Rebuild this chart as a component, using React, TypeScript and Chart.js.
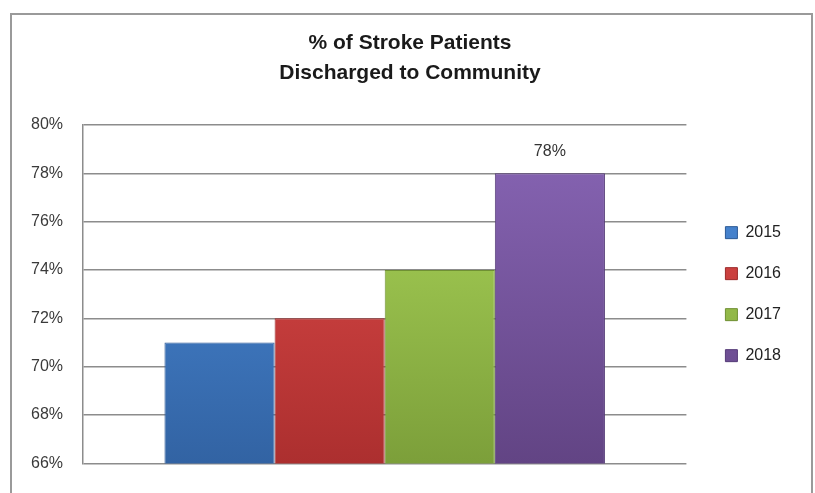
import React, { useEffect, useRef } from "react";
import { Chart, registerables } from "chart.js";

Chart.register(...registerables);

const titleLines = ["% of Stroke Patients", "Discharged to Community"];
const categories = [""];
const years = ["2015", "2016", "2017", "2018"];
const values = [71, 72, 74, 78];
const barLabels = ["", "", "", "78%"];
const yMin = 66;
const yMax = 80;
const yStep = 2;

const topColors = ["#4a8ad8", "#dc4a48", "#a8d257", "#8462b0"];
const bottomColors = ["#3263a3", "#ac2f2f", "#7c9f3a", "#624484"];
const edgeColors = ["#2c5a96", "#9c2a2a", "#6f9033", "#563c78"];

const FONT = "'Liberation Sans', Arial, sans-serif";

const barLabelPlugin = {
  id: "barLabelPlugin",
  afterDatasetsDraw(chart: any) {
    const ctx = chart.ctx;
    ctx.save();
    ctx.font = `16px ${FONT}`;
    ctx.fillStyle = "#333333";
    ctx.textAlign = "center";
    ctx.textBaseline = "middle";
    chart.data.datasets.forEach((_ds: any, i: number) => {
      const text = barLabels[i];
      if (!text) return;
      const meta = chart.getDatasetMeta(i);
      meta.data.forEach((el: any) => {
        ctx.fillText(text, el.x, el.y - 22);
      });
    });
    ctx.restore();
  },
};

export default function App() {
  const canvasRef = useRef<HTMLCanvasElement | null>(null);

  useEffect(() => {
    const canvas = canvasRef.current;
    if (!canvas) return;
    const chart = new Chart(canvas, {
      type: "bar",
      data: {
        labels: categories,
        datasets: years.map((y, i) => ({
          label: y,
          data: [values[i]],
          backgroundColor: (c: any) => {
            const area = c.chart.chartArea;
            if (!area) return topColors[i];
            const g = c.chart.ctx.createLinearGradient(0, area.top + 40, 0, area.bottom);
            g.addColorStop(0, topColors[i]);
            g.addColorStop(1, bottomColors[i]);
            return g;
          },
          borderColor: edgeColors[i],
          borderWidth: 1,
          barPercentage: 1,
          categoryPercentage: 0.73,
        })),
      },
      options: {
        responsive: false,
        animation: false,
        layout: { padding: { left: 29, right: 24, top: 0, bottom: 29 } },
        plugins: {
          title: {
            display: true,
            text: titleLines,
            color: "#1a1a1a",
            font: { family: FONT, size: 21, weight: "bold", lineHeight: 1.45 },
            padding: { top: 28, bottom: 36 },
          },
          legend: {
            display: true,
            position: "right",
            fullSize: false,
            labels: {
              boxWidth: 12,
              boxHeight: 12,
              padding: 25,
              color: "#222222",
              font: { family: FONT, size: 16 },
            },
          },
          tooltip: { enabled: false },
        },
        scales: {
          x: { display: false },
          y: {
            min: yMin,
            max: yMax,
            ticks: {
              stepSize: yStep,
              padding: 20,
              color: "#3a3a3a",
              font: { family: FONT, size: 16 },
              callback: (v: any) => `${v}%`,
            },
            grid: { color: "#8c8c8c", lineWidth: 1.5, drawTicks: false },
            border: { color: "#8c8c8c", width: 1.5 },
            afterFit: (s: any) => {
              s.width = 54;
            },
          },
          spacer: {
            type: "linear",
            position: "right",
            display: true,
            grid: { display: false, drawTicks: false },
            border: { display: false },
            ticks: { display: false },
            afterFit: (s: any) => {
              s.width = 14;
            },
          },
        },
      } as any,
      plugins: [barLabelPlugin],
    });
    return () => chart.destroy();
  }, []);

  return (
    <div style={{ position: "absolute", left: 0, top: 0, width: 815, height: 493, background: "#fff", overflow: "hidden" }}>
      <div
        style={{
          position: "absolute",
          left: 10,
          top: 13,
          width: 799,
          height: 500,
          border: "2px solid #9a9a9a",
        }}
      />
      <canvas ref={canvasRef} width={815} height={493} style={{ position: "absolute", left: 0, top: 0, display: "block" }} />
    </div>
  );
}
